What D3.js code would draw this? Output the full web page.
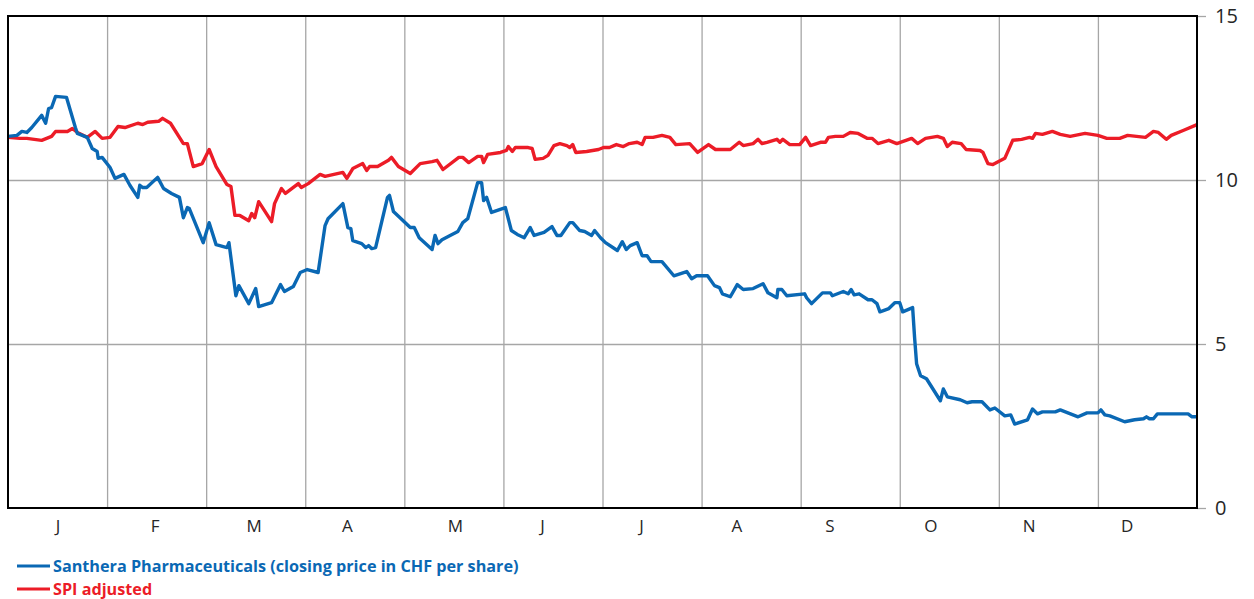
<!DOCTYPE html>
<html>
<head>
<meta charset="utf-8">
<script src="https://d3js.org/d3.v7.min.js"></script>
<style>
  body { margin: 0; background: #fff; }
  text { font-family: "Open Sans", sans-serif; }
</style>
</head>
<body>
<svg id="chart"></svg>
<script>
  // time is given in months from 1 January (0 .. 12)
  var monthLabels = ['J', 'F', 'M', 'A', 'M', 'J', 'J', 'A', 'S', 'O', 'N', 'D']
  var monthLabelPos = [0.50, 1.48, 2.48, 3.42, 4.51, 5.39, 6.39, 7.35, 8.29, 9.31, 10.30, 11.29]
  var yTicks = [0, 5, 10, 15]

  var blueT = [0.00, 0.09, 0.14, 0.19, 0.24, 0.34, 0.38, 0.41, 0.44, 0.48, 0.59, 0.68, 0.70, 0.80, 0.85, 0.90, 0.91, 0.95,
    1.03, 1.08, 1.17, 1.23, 1.31, 1.33, 1.36, 1.40, 1.51, 1.57, 1.65, 1.73, 1.77, 1.81, 1.83, 1.97,
    2.03, 2.10, 2.21, 2.23, 2.30, 2.33, 2.43, 2.50, 2.53, 2.66, 2.75, 2.79, 2.88, 2.95,
    3.02, 3.13, 3.20, 3.23, 3.38, 3.43, 3.46, 3.48, 3.57, 3.61, 3.64, 3.67, 3.71, 3.83, 3.85, 3.89,
    4.06, 4.10, 4.15, 4.28, 4.31, 4.34, 4.38, 4.54, 4.59, 4.64, 4.74, 4.78, 4.80, 4.83, 4.88,
    5.02, 5.08, 5.14, 5.21, 5.27, 5.31, 5.41, 5.49, 5.54, 5.58, 5.67, 5.70, 5.77, 5.82, 5.89, 5.92, 5.98,
    6.03, 6.15, 6.20, 6.24, 6.28, 6.35, 6.40, 6.45, 6.49, 6.60, 6.72, 6.85, 6.90, 6.95,
    7.06, 7.13, 7.18, 7.21, 7.29, 7.36, 7.42, 7.52, 7.62, 7.67, 7.76, 7.77, 7.81, 7.86,
    8.04, 8.06, 8.11, 8.22, 8.30, 8.32, 8.43, 8.48, 8.51, 8.54, 8.59, 8.68, 8.72, 8.77, 8.80, 8.89, 8.95,
    9.00, 9.03, 9.13, 9.15, 9.17, 9.21, 9.27, 9.41, 9.44, 9.48, 9.61, 9.68, 9.73, 9.83, 9.91, 9.96,
    10.06, 10.12, 10.16, 10.29, 10.34, 10.39, 10.44, 10.57, 10.62, 10.80, 10.89,
    11.00, 11.03, 11.07, 11.12, 11.27, 11.37, 11.46, 11.49, 11.52, 11.56, 11.60, 11.70, 11.91, 11.95, 12.00]
  var blueV = [11.33, 11.36, 11.48, 11.45, 11.60, 11.97, 11.73, 12.18, 12.21, 12.55, 12.52, 11.60, 11.42, 11.30, 10.96, 10.87, 10.66, 10.69,
    10.38, 10.05, 10.17, 9.84, 9.47, 9.84, 9.77, 9.77, 10.08, 9.74, 9.59, 9.47, 8.85, 9.16, 9.13, 8.09,
    8.70, 8.03, 7.94, 8.09, 6.47, 6.78, 6.23, 6.69, 6.14, 6.26, 6.81, 6.60, 6.75, 7.18,
    7.27, 7.18, 8.61, 8.82, 9.28, 8.55, 8.52, 8.15, 8.06, 7.94, 8.00, 7.91, 7.94, 9.47, 9.53, 9.04,
    8.55, 8.55, 8.24, 7.88, 8.31, 8.06, 8.18, 8.43, 8.70, 8.82, 9.92, 9.92, 9.37, 9.47, 9.01,
    9.16, 8.46, 8.34, 8.24, 8.55, 8.31, 8.40, 8.58, 8.31, 8.31, 8.70, 8.70, 8.46, 8.43, 8.31, 8.46, 8.24,
    8.09, 7.85, 8.12, 7.88, 8.00, 8.09, 7.69, 7.69, 7.51, 7.51, 7.08, 7.21, 6.99, 7.08,
    7.08, 6.78, 6.72, 6.53, 6.44, 6.81, 6.66, 6.69, 6.84, 6.56, 6.41, 6.66, 6.66, 6.47,
    6.53, 6.41, 6.23, 6.56, 6.56, 6.47, 6.60, 6.53, 6.66, 6.50, 6.53, 6.35, 6.35, 6.23, 5.98, 6.08, 6.26,
    6.26, 5.98, 6.11, 5.19, 4.40, 4.03, 3.94, 3.27, 3.63, 3.39, 3.30, 3.21, 3.24, 3.24, 2.99, 3.05,
    2.81, 2.84, 2.56, 2.69, 3.02, 2.87, 2.93, 2.93, 2.99, 2.78, 2.90,
    2.90, 2.99, 2.84, 2.81, 2.63, 2.69, 2.72, 2.78, 2.72, 2.72, 2.87, 2.87, 2.87, 2.78, 2.78]

  var redT = [0.00, 0.12, 0.19, 0.34, 0.44, 0.48, 0.60, 0.65, 0.70, 0.80, 0.88, 0.95,
    1.03, 1.11, 1.18, 1.31, 1.36, 1.41, 1.52, 1.56, 1.64, 1.77, 1.81, 1.87, 1.96,
    2.03, 2.10, 2.21, 2.25, 2.29, 2.34, 2.43, 2.46, 2.49, 2.53, 2.66, 2.69, 2.76, 2.80, 2.93, 2.96,
    3.03, 3.15, 3.20, 3.38, 3.42, 3.48, 3.58, 3.62, 3.65, 3.73, 3.84, 3.87, 3.94,
    4.06, 4.16, 4.28, 4.33, 4.39, 4.55, 4.59, 4.65, 4.74, 4.78, 4.80, 4.84, 4.97,
    5.03, 5.05, 5.09, 5.12, 5.25, 5.29, 5.32, 5.40, 5.45, 5.51, 5.57, 5.64, 5.67, 5.70, 5.73, 5.84, 5.96,
    6.01, 6.07, 6.14, 6.21, 6.27, 6.35, 6.40, 6.43, 6.51, 6.60, 6.68, 6.74, 6.88, 6.96,
    7.07, 7.14, 7.29, 7.38, 7.42, 7.52, 7.57, 7.61, 7.66, 7.76, 7.79, 7.82, 7.89, 7.99,
    8.05, 8.10, 8.20, 8.25, 8.28, 8.35, 8.43, 8.50, 8.58, 8.67, 8.72, 8.78, 8.89, 8.97,
    9.12, 9.18, 9.26, 9.38, 9.44, 9.48, 9.53, 9.62, 9.67, 9.81, 9.84, 9.89, 9.94,
    10.06, 10.14, 10.23, 10.31, 10.34, 10.37, 10.44, 10.54, 10.62, 10.72, 10.87,
    11.00, 11.09, 11.22, 11.30, 11.48, 11.56, 11.61, 11.69, 11.74, 11.86, 12.00]
  var redV = [11.30, 11.27, 11.27, 11.21, 11.33, 11.48, 11.48, 11.57, 11.45, 11.30, 11.48, 11.27,
    11.30, 11.63, 11.60, 11.73, 11.69, 11.76, 11.79, 11.88, 11.73, 11.11, 11.11, 10.41, 10.50,
    10.93, 10.41, 9.86, 9.80, 8.92, 8.92, 8.76, 8.98, 8.85, 9.34, 8.73, 9.28, 9.74, 9.59, 9.89, 9.77,
    9.89, 10.17, 10.11, 10.23, 10.05, 10.35, 10.50, 10.29, 10.41, 10.41, 10.60, 10.69, 10.41,
    10.20, 10.50, 10.56, 10.60, 10.32, 10.69, 10.69, 10.53, 10.72, 10.72, 10.53, 10.78, 10.84,
    10.90, 11.02, 10.87, 10.99, 10.99, 10.96, 10.63, 10.66, 10.75, 11.05, 11.11, 11.05, 10.99, 11.08, 10.84, 10.87, 10.93,
    10.99, 10.99, 11.08, 11.02, 11.11, 11.15, 11.08, 11.30, 11.30, 11.36, 11.30, 11.08, 11.11, 10.84,
    11.08, 10.93, 10.93, 11.15, 11.05, 11.11, 11.24, 11.11, 11.15, 11.24, 11.15, 11.24, 11.08, 11.08,
    11.30, 11.05, 11.15, 11.15, 11.30, 11.33, 11.33, 11.45, 11.42, 11.27, 11.27, 11.11, 11.21, 11.11,
    11.27, 11.11, 11.27, 11.33, 11.27, 11.02, 11.15, 11.11, 10.93, 10.90, 10.84, 10.50, 10.47,
    10.66, 11.21, 11.24, 11.30, 11.27, 11.42, 11.39, 11.48, 11.39, 11.33, 11.42,
    11.36, 11.27, 11.27, 11.36, 11.30, 11.48, 11.45, 11.24, 11.36, 11.51, 11.69]

  var seriesNames = ['Santhera Pharmaceuticals (closing price in CHF per share)', 'SPI adjusted']
  var seriesColors = ['#0a68b4', '#ec1c27']

  var W = 1254, H = 599
  var plotL = 8, plotR = 1197, plotT = 16, plotB = 508

  var svg = d3.select('#chart').attr('width', W).attr('height', H)

  var x = d3.scaleLinear().domain([0, 12]).range([plotL, plotR])
  var y = d3.scaleLinear().domain([0, 15]).range([plotB, plotT])

  // grid
  svg.append('g')
      .attr('transform', 'translate(0,' + plotB + ')')
      .call(d3.axisBottom(x).tickValues(d3.range(1, 12)).tickSize(-(plotB - plotT)).tickFormat(''))
      .call(function (g) { g.select('.domain').remove() })
      .selectAll('line').attr('stroke', '#a6a6a6').attr('stroke-width', 1.3)

  svg.append('g')
      .attr('transform', 'translate(' + plotL + ',0)')
      .call(d3.axisRight(y).tickValues([5, 10]).tickSize(plotR - plotL).tickFormat(''))
      .call(function (g) { g.select('.domain').remove() })
      .selectAll('line').attr('stroke', '#a6a6a6').attr('stroke-width', 1.3)

  // right axis
  var yAxis = svg.append('g')
      .attr('transform', 'translate(' + plotR + ',0)')
      .call(d3.axisRight(y).tickValues(yTicks).tickSize(9).tickPadding(9))
  yAxis.select('.domain').remove()
  yAxis.selectAll('line').attr('stroke', '#a6a6a6').attr('stroke-width', 1.3)
  yAxis.selectAll('text').attr('font-size', 20).attr('fill', '#262626')
      .style('font-family', '"Open Sans", sans-serif')

  // month labels
  var xAxis = svg.append('g')
      .attr('transform', 'translate(0,' + plotB + ')')
      .call(d3.axisBottom(x).tickValues(monthLabelPos).tickSize(0).tickPadding(12)
          .tickFormat(function (d, i) { return monthLabels[i] }))
  xAxis.select('.domain').remove()
  xAxis.selectAll('text').attr('font-size', 17).attr('fill', '#262626')
      .style('font-family', '"Open Sans", sans-serif')

  // lines
  var line = d3.line().x(function (d) { return x(d[0]) }).y(function (d) { return y(d[1]) })
  var blueData = d3.zip(blueT, blueV)
  var redData = d3.zip(redT, redV)

  svg.append('path').datum(redData)
      .attr('d', line).attr('fill', 'none')
      .attr('stroke', seriesColors[1]).attr('stroke-width', 3.4).attr('stroke-linejoin', 'round')
  svg.append('path').datum(blueData)
      .attr('d', line).attr('fill', 'none')
      .attr('stroke', seriesColors[0]).attr('stroke-width', 3.4).attr('stroke-linejoin', 'round')

  // frame
  svg.append('rect')
      .attr('x', plotL).attr('y', plotT).attr('width', plotR - plotL).attr('height', plotB - plotT)
      .attr('fill', 'none').attr('stroke', '#000').attr('stroke-width', 2)

  // legend
  var legend = svg.selectAll('.legend').data(seriesNames).enter().append('g')
      .attr('class', 'legend')
      .attr('transform', function (d, i) { return 'translate(17,' + (566 + i * 23) + ')' })
  legend.append('line')
      .attr('x1', 0).attr('x2', 33).attr('y1', 0).attr('y2', 0)
      .attr('stroke', function (d, i) { return seriesColors[i] }).attr('stroke-width', 3)
  legend.append('text')
      .attr('x', 36).attr('y', 0).attr('dy', '0.35em')
      .attr('font-size', 16.2).attr('font-weight', 'bold')
      .attr('fill', function (d, i) { return seriesColors[i] })
      .text(function (d) { return d })
</script>
</body>
</html>
